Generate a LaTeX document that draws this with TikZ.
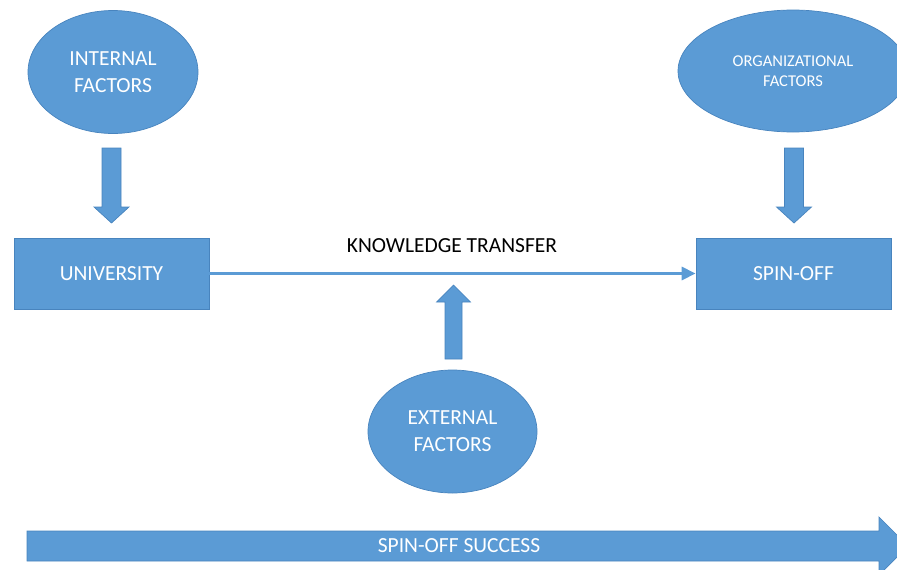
\documentclass[tikz,border=0pt]{standalone}
\usepackage{fontspec}
\setmainfont{Carlito}
\usetikzlibrary{shapes.geometric,arrows.meta}
\definecolor{boxblue}{RGB}{91,155,213}
\definecolor{edgeblue}{RGB}{72,132,190}
\tikzset{
  shapefill/.style={fill=boxblue,draw=edgeblue,line width=0.7pt},
  oval/.style={shapefill,ellipse,inner sep=0pt,align=center,text=white,
    font=\fontsize{21.5}{27}\selectfont},
  box/.style={shapefill,rectangle,inner sep=0pt,text=white,
    font=\fontsize{21.5}{26}\selectfont},
  conn/.style={draw=boxblue,line width=3pt,-{Triangle[length=14pt,width=13pt]}},
  % vertical block arrow pointing down from its origin: length/shaft half/head half/head length
  pics/blockv/.style args={#1/#2/#3/#4}{code={
    \path[shapefill] (-#2,0) -- (#2,0) -- (#2,{#1-#4}) -- (#3,{#1-#4}) -- (0,#1)
      -- (-#3,{#1-#4}) -- (-#2,{#1-#4}) -- cycle;}}
}
\begin{document}
\begin{tikzpicture}[x=1pt,y=-1pt]
\useasboundingbox (0,0) rectangle (897,570);
\clip (0,0) rectangle (897,570);

% factor ovals
\node[oval,minimum width=170pt,minimum height=123pt] (internal) at (113,72) {INTERNAL\\FACTORS};
\node[oval,minimum width=230pt,minimum height=122pt,font=\fontsize{16.5}{20}\selectfont]
  (organizational) at (793,71) {ORGANIZATIONAL\\FACTORS};
\node[oval,minimum width=169pt,minimum height=123pt] (external) at (452.5,431.5) {EXTERNAL\\FACTORS};

% main boxes
\node[box,minimum width=195pt,minimum height=71pt] (university) at (111.5,273.5) {UNIVERSITY};
\node[box,minimum width=195pt,minimum height=71pt] (spinoff) at (793.5,273.5) {SPIN-OFF};

% knowledge transfer link
\draw[conn] (university.east) -- (spinoff.west);
\node[font=\fontsize{21.5}{26}\selectfont,text=black] (transfer) at (452,246) {KNOWLEDGE TRANSFER};

% influence arrows
\pic at (111.5,148) {blockv=75/9.5/17.5/16};
\pic at (794,148) {blockv=75/9.5/17.5/16};
\pic[rotate=180] at (453.5,359) {blockv=74/8.5/17/17};

% success arrow along the bottom
\path[shapefill] (27,531) -- (879,531) -- (879,517) -- (908,546) -- (879,575)
  -- (879,561) -- (27,561) -- cycle;
\node[text=white,font=\fontsize{21.5}{26}\selectfont] (success) at (459,546) {SPIN-OFF SUCCESS};
\end{tikzpicture}
\end{document}
